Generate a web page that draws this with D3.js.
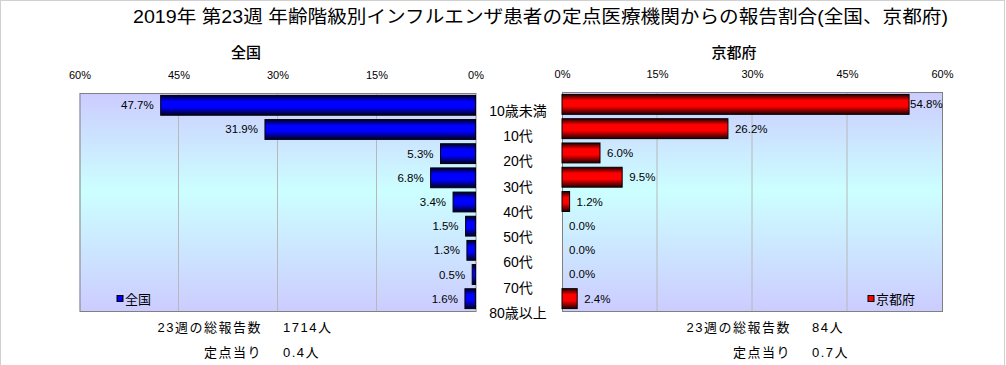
<!DOCTYPE html>
<html>
<head>
<meta charset="utf-8">
<script src="https://cdn.jsdelivr.net/npm/d3@7"></script>
<style>
  body { margin: 0; background: #fff; }
  svg { display: block; font-family: "Liberation Sans", "Noto Sans CJK JP", sans-serif; }
</style>
</head>
<body>
<div id="chart"></div>
<script>
// data
const ages = ["10歳未満", "10代", "20代", "30代", "40代", "50代", "60代", "70代", "80歳以上"];
const zenkoku = [47.7, 31.9, 5.3, 6.8, 3.4, 1.5, 1.3, 0.5, 1.6];
const kyoto = [54.8, 26.2, 6.0, 9.5, 1.2, 0.0, 0.0, 0.0, 2.4];
const tickValues = [0, 15, 30, 45, 60];
const totalsZenkoku = ["1714人", "0.4人"];
const totalsKyoto = ["84人", "0.7人"];
const statLabels = ["23週の総報告数", "定点当り"];

const width = 1006, height = 365;

const svg = d3.select("#chart").append("svg")
  .attr("width", width)
  .attr("height", height);

const defs = svg.append("defs");

// plot background gradient (lavender -> cyan -> lavender)
const bg = defs.append("linearGradient").attr("id", "bg")
  .attr("x1", 0).attr("y1", 0).attr("x2", 0).attr("y2", 1);
bg.append("stop").attr("offset", "0%").attr("stop-color", "#ccccff");
bg.append("stop").attr("offset", "45%").attr("stop-color", "#ccffff");
bg.append("stop").attr("offset", "100%").attr("stop-color", "#ccccff");

// cylinder look for bars
function barGradient(id, color, dark) {
  const g = defs.append("linearGradient").attr("id", id)
    .attr("x1", 0).attr("y1", 0).attr("x2", 0).attr("y2", 1);
  g.append("stop").attr("offset", "0%").attr("stop-color", dark);
  g.append("stop").attr("offset", "30%").attr("stop-color", color);
  g.append("stop").attr("offset", "60%").attr("stop-color", color);
  g.append("stop").attr("offset", "100%").attr("stop-color", dark);
}
barGradient("gBlue", "#0000ff", "#000020");
barGradient("gRed", "#ff0000", "#200000");

// outer frame
svg.append("rect")
  .attr("x", 0.5).attr("y", 0.5)
  .attr("width", 1004).attr("height", 370)
  .attr("fill", "none")
  .attr("stroke", "#d0d0d0");

// title
svg.append("text")
  .attr("x", 133).attr("y", 23)
  .attr("textLength", 815)
  .attr("lengthAdjust", "spacingAndGlyphs")
  .style("font-size", "18px")
  .text("2019年 第23週 年齢階級別インフルエンザ患者の定点医療機関からの報告割合(全国、京都府)");

function panel(cfg) {
  const x = d3.scaleLinear().domain([0, 60]).range(cfg.range);
  const y = d3.scaleBand().domain(ages).range([cfg.top, cfg.bottom])
    .paddingInner(0.18).paddingOuter(0.1);
  const x0 = Math.min(cfg.range[0], cfg.range[1]);
  const x1 = Math.max(cfg.range[0], cfg.range[1]);

  svg.append("text")
    .attr("x", cfg.titleX).attr("y", 58)
    .attr("text-anchor", "middle")
    .style("font-size", "15px")
    .style("font-weight", "500")
    .text(cfg.title);

  svg.append("rect")
    .attr("x", x0).attr("y", cfg.top)
    .attr("width", x1 - x0).attr("height", cfg.bottom - cfg.top)
    .attr("fill", "url(#bg)");

  // grid
  svg.append("g").selectAll("line")
    .data(tickValues.slice(1, 4))
    .join("line")
    .attr("x1", d => x(d)).attr("x2", d => x(d))
    .attr("y1", cfg.top).attr("y2", cfg.bottom)
    .attr("stroke", "#b8b8b8");

  // axis on top
  const axis = d3.axisTop(x)
    .tickValues(tickValues)
    .tickSize(0)
    .tickPadding(14)
    .tickFormat(d => d + "%");
  const ax = svg.append("g")
    .attr("transform", `translate(0,${cfg.top})`)
    .call(axis);
  ax.select(".domain").remove();
  ax.selectAll("text").style("font-size", "11px").attr("fill", "#000");

  svg.append("rect")
    .attr("x", x0 + 0.5).attr("y", cfg.top + 0.5)
    .attr("width", x1 - x0).attr("height", cfg.bottom - cfg.top)
    .attr("fill", "none")
    .attr("stroke", "#808080");

  // bars
  svg.append("g").selectAll("rect")
    .data(cfg.values)
    .join("rect")
    .attr("x", d => Math.min(x(0), x(d)))
    .attr("y", (d, i) => y(ages[i]))
    .attr("width", d => Math.abs(x(d) - x(0)))
    .attr("height", y.bandwidth())
    .attr("fill", cfg.fill)
    .attr("stroke", "#000")
    .attr("stroke-width", d => d > 0 ? 1 : 0);

  // value labels
  svg.append("g").selectAll("text")
    .data(cfg.values)
    .join("text")
    .attr("x", d => cfg.side === "left"
      ? x(d) - 7
      : Math.min(x(d) + 7, x1 - 32))
    .attr("y", (d, i) => y(ages[i]) + y.bandwidth() / 2 + 4)
    .attr("text-anchor", cfg.side === "left" ? "end" : "start")
    .style("font-size", "11.5px")
    .text(d => d.toFixed(1) + "%");

  // legend
  const lg = svg.append("g").attr("transform", `translate(${cfg.legendX},299)`);
  lg.append("rect")
    .attr("x", 0).attr("y", -3.5)
    .attr("width", 6).attr("height", 6)
    .attr("fill", cfg.solid)
    .attr("stroke", "#000");
  lg.append("text")
    .attr("x", 8).attr("y", 5)
    .style("font-size", "13px")
    .text(cfg.title);

  // totals below
  const st = svg.append("g");
  st.selectAll("text.lab")
    .data(statLabels)
    .join("text")
    .attr("class", "lab")
    .attr("x", cfg.statX)
    .attr("y", (d, i) => 332 + i * 25)
    .attr("text-anchor", "end")
    .style("font-size", "13px")
    .style("letter-spacing", "1.5px")
    .text(d => d);
  st.selectAll("text.val")
    .data(cfg.totals)
    .join("text")
    .attr("class", "val")
    .attr("x", cfg.statX + 21)
    .attr("y", (d, i) => 332 + i * 25)
    .style("font-size", "13px")
    .style("letter-spacing", "1.5px")
    .text(d => d);
}

panel({
  side: "left", title: "全国", titleX: 246,
  range: [475.5, 79.5], top: 93, bottom: 311,
  values: zenkoku, fill: "url(#gBlue)", solid: "#0000ff",
  legendX: 117, statX: 262, totals: totalsZenkoku
});

panel({
  side: "right", title: "京都府", titleX: 734,
  range: [562, 942], top: 92, bottom: 311,
  values: kyoto, fill: "url(#gRed)", solid: "#ff0000",
  legendX: 868, statX: 791, totals: totalsKyoto
});

// category labels between the panels
const labelY = d3.scalePoint().domain(ages).range([111, 313]);
svg.append("g").selectAll("text")
  .data(ages)
  .join("text")
  .attr("x", 518)
  .attr("y", d => labelY(d))
  .attr("dy", "0.35em")
  .attr("text-anchor", "middle")
  .style("font-size", "14px")
  .text(d => d);
</script>
</body>
</html>
